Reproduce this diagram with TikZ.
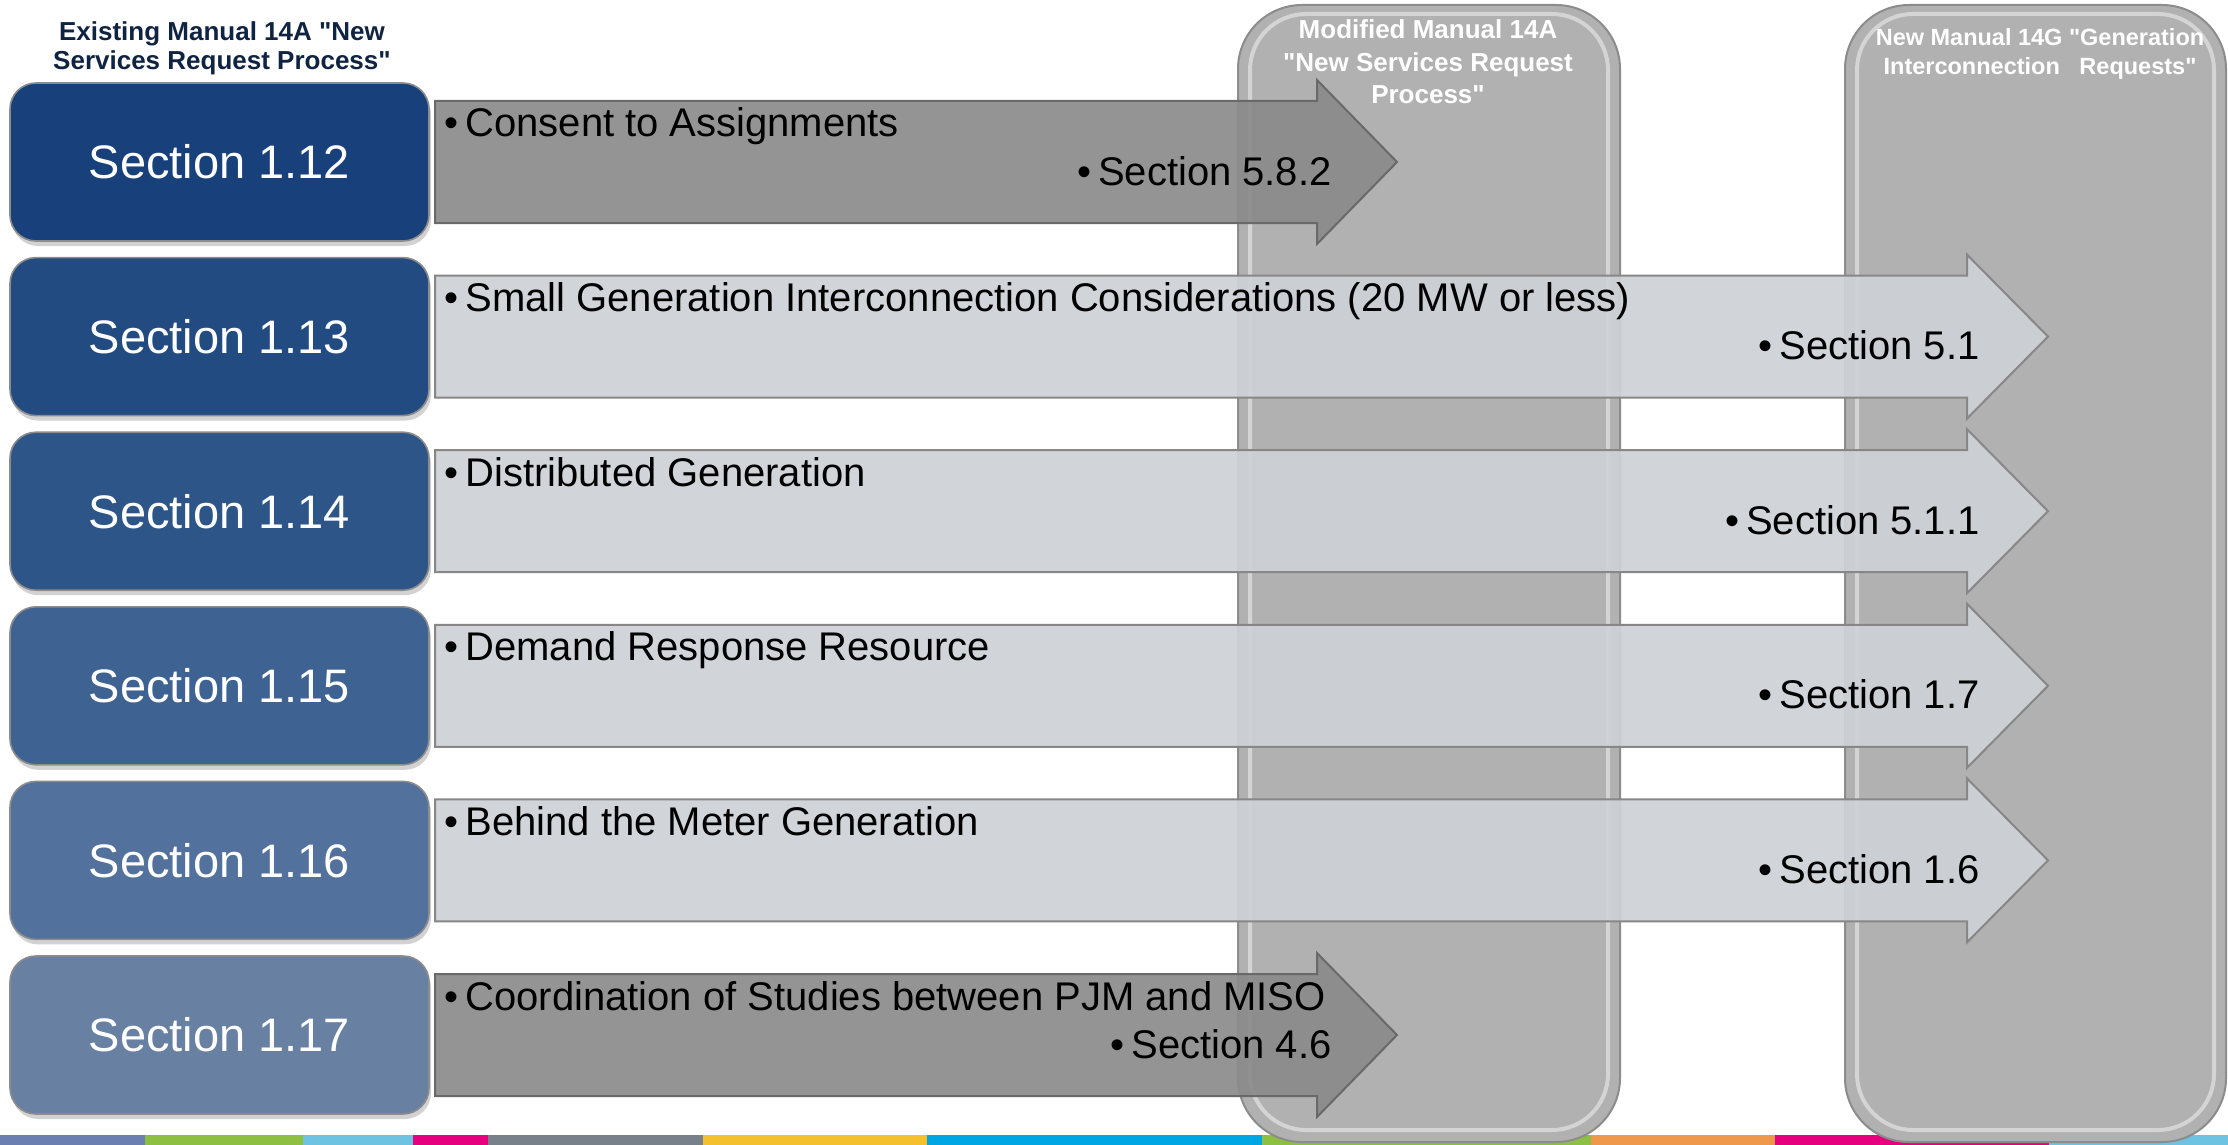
\documentclass[tikz,border=0pt]{standalone}
\usepackage{fontspec}
\setmainfont{Liberation Sans}
\newfontfamily\qfont{Liberation Sans}
\usetikzlibrary{shadows}
\newcommand{\sq}{{\qfont"}}
\definecolor{navyhdr}{RGB}{16,36,66}
\definecolor{boxA}{RGB}{24,64,122}
\definecolor{boxB}{RGB}{34,75,129}
\definecolor{boxC}{RGB}{46,85,136}
\definecolor{boxD}{RGB}{62,98,145}
\definecolor{boxE}{RGB}{82,113,156}
\definecolor{boxF}{RGB}{104,128,162}
\definecolor{colgray}{RGB}{177,177,177}
\definecolor{colrim}{RGB}{140,140,140}
\definecolor{lightfill}{RGB}{206,209,214}
\definecolor{lightrim}{RGB}{135,135,135}
\definecolor{darkfill}{RGB}{139,139,139}
\definecolor{darkrim}{RGB}{105,105,105}
\definecolor{stA}{RGB}{107,127,176}
\definecolor{stB}{RGB}{141,191,66}
\definecolor{stC}{RGB}{110,195,226}
\definecolor{stD}{RGB}{230,0,126}
\definecolor{stE}{RGB}{120,129,138}
\definecolor{stF}{RGB}{245,192,45}
\definecolor{stG}{RGB}{0,166,228}
\definecolor{stH}{RGB}{239,151,74}
\tikzset{
  secbox/.style={draw=black!45, line width=0.8pt, rounded corners=13pt,
    minimum width=209.5pt, minimum height=79pt, text=white,
    font=\fontsize{23.5pt}{28pt}\selectfont, inner sep=0pt,
    drop shadow={shadow xshift=1pt, shadow yshift=-2.5pt, opacity=0.35}},
  colshape/.style={fill=colgray, draw=colrim, line width=1pt, rounded corners=32pt},
  colrimhi/.style={draw=white, opacity=0.45, line width=2pt, rounded corners=28pt},
  lightarrow/.style={fill=lightfill, fill opacity=0.93, draw=lightrim, line width=1pt, line join=miter},
  darkarrow/.style={fill=darkfill, fill opacity=0.92, draw=darkrim, line width=1pt, line join=miter},
  bandtext/.style={inner sep=0pt, font=\fontsize{20pt}{24pt}\selectfont, text=black},
  colhdr/.style={align=center, text=white, inner sep=0pt, font=\bfseries\fontsize{13pt}{16.25pt}\selectfont},
}
\newcommand{\bandarrow}[4]{%
  \pgfmathsetmacro\bandT{#2-61}\pgfmathsetmacro\bandB{#2+61}%
  \pgfmathsetmacro\headT{#2-82}\pgfmathsetmacro\headB{#2+82}%
  \draw[#1] (435,\bandT) -- (#3,\bandT) -- (#3,\headT) -- (#4,#2) -- (#3,\headB) -- (#3,\bandB) -- (435,\bandB) -- cycle;}
\begin{document}
\begin{tikzpicture}[x=0.5pt,y=-0.5pt]
\useasboundingbox (0,0) rectangle (2228,1145);
\fill[white] (0,0) rectangle (2228,1145);
% bottom colour strip
\fill[stA] (0,1135) rectangle (145,1145);
\fill[stB] (145,1135) rectangle (303,1145);
\fill[stC] (303,1135) rectangle (413,1145);
\fill[stD] (413,1135) rectangle (488,1145);
\fill[stE] (488,1135) rectangle (703,1145);
\fill[stF] (703,1135) rectangle (927,1145);
\fill[stG] (927,1135) rectangle (1262,1145);
\fill[stB] (1262,1135) rectangle (1591,1145);
\fill[stH] (1591,1135) rectangle (1775,1145);
\fill[stD] (1775,1135) rectangle (2049,1145);
\fill[stC] (2049,1135) rectangle (2228,1145);
% columns
\draw[colshape] (1238,5) rectangle (1620,1142);
\draw[colrimhi] (1250,14) rectangle (1608,1130);
\draw[colshape] (1845,5) rectangle (2226,1142);
\draw[colrimhi] (1857,14) rectangle (2214,1130);
% headers
\node[colhdr, text=navyhdr, font=\bfseries\fontsize{13pt}{14.5pt}\selectfont] (hdrL) at (222,48) {Existing Manual 14A \sq New\\Services Request Process\sq};
\node[colhdr] (hdrM) at (1428,62) {Modified Manual 14A\\\sq New Services Request\\Process\sq};
\node[colhdr, font=\bfseries\fontsize{11.75pt}{14.5pt}\selectfont] (hdrN) at (2040,54) {New Manual 14G \sq Generation\\Interconnection \ \ Requests\sq};
% arrows
\bandarrow{darkarrow}{162}{1317}{1397}
\bandarrow{lightarrow}{336.6}{1967}{2048}
\bandarrow{lightarrow}{511.2}{1967}{2048}
\bandarrow{lightarrow}{685.8}{1967}{2048}
\bandarrow{lightarrow}{860.4}{1967}{2048}
\bandarrow{darkarrow}{1035}{1317}{1397}
% arrow texts
\node[bandtext, anchor=base west] (a12) at (444,137) {\textbullet\hspace{3.5pt}Consent to Assignments};
\node[bandtext, anchor=base east] (b12) at (1332,185) {\textbullet\hspace{3.5pt}Section 5.8.2};
\node[bandtext, anchor=base west] (a13) at (444,311.6) {\textbullet\hspace{3.5pt}Small Generation Interconnection Considerations (20 MW or less)};
\node[bandtext, anchor=base east] (b13) at (1980,359.6) {\textbullet\hspace{3.5pt}Section 5.1};
\node[bandtext, anchor=base west] (a14) at (444,486.2) {\textbullet\hspace{3.5pt}Distributed Generation};
\node[bandtext, anchor=base east] (b14) at (1980,534.2) {\textbullet\hspace{3.5pt}Section 5.1.1};
\node[bandtext, anchor=base west] (a15) at (444,660.8) {\textbullet\hspace{3.5pt}Demand Response Resource};
\node[bandtext, anchor=base east] (b15) at (1980,708.8) {\textbullet\hspace{3.5pt}Section 1.7};
\node[bandtext, anchor=base west] (a16) at (444,835.4) {\textbullet\hspace{3.5pt}Behind the Meter Generation};
\node[bandtext, anchor=base east] (b16) at (1980,883.4) {\textbullet\hspace{3.5pt}Section 1.6};
\node[bandtext, anchor=base west] (a17) at (444,1010) {\textbullet\hspace{3.5pt}Coordination of Studies between PJM and MISO};
\node[bandtext, anchor=base east] (b17) at (1332,1058) {\textbullet\hspace{3.5pt}Section 4.6};
% section boxes
\node[secbox, fill=boxA] (s12) at (219.5,162) {Section 1.12};
\node[secbox, fill=boxB] (s13) at (219.5,336.6) {Section 1.13};
\node[secbox, fill=boxC] (s14) at (219.5,511.2) {Section 1.14};
\node[secbox, fill=boxD] (s15) at (219.5,685.8) {Section 1.15};
\node[secbox, fill=boxE] (s16) at (219.5,860.4) {Section 1.16};
\node[secbox, fill=boxF] (s17) at (219.5,1035) {Section 1.17};
\end{tikzpicture}
\end{document}
